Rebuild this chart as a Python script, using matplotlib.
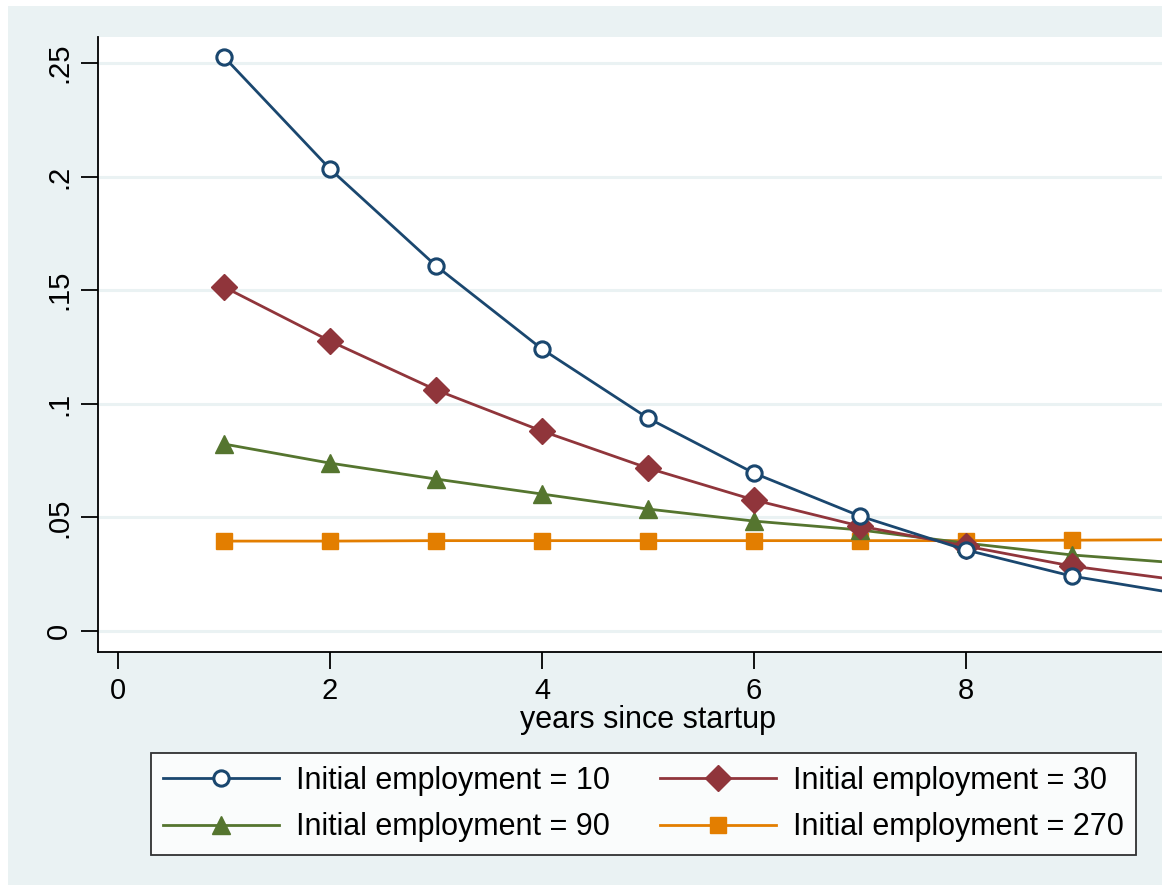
import matplotlib.pyplot as plt
from matplotlib.patches import Rectangle
from matplotlib.lines import Line2D

plt.rcParams['font.family'] = ['Liberation Sans', 'DejaVu Sans']

years = [1, 2, 3, 4, 5, 6, 7, 8, 9, 10]
emp10 = [0.2526, 0.2033, 0.1607, 0.1241, 0.0937, 0.0695, 0.0506, 0.0357, 0.0242, 0.0165]
emp30 = [0.1514, 0.1276, 0.1061, 0.0880, 0.0717, 0.0577, 0.0462, 0.0374, 0.0286, 0.0225]
emp90 = [0.0823, 0.0739, 0.0669, 0.0603, 0.0537, 0.0484, 0.0445, 0.0387, 0.0335, 0.0300]
emp270 = [0.0396, 0.0396, 0.0398, 0.0398, 0.0398, 0.0398, 0.0398, 0.0398, 0.0400, 0.0402]
labels = ['Initial employment = 10', 'Initial employment = 30',
          'Initial employment = 90', 'Initial employment = 270']
xticks = [0, 2, 4, 6, 8]
yticks = [0, 0.05, 0.1, 0.15, 0.2, 0.25]
ytick_labels = ['0', '.05', '.1', '.15', '.2', '.25']

bg = '#EAF2F3'
W, H = 1162, 891

fig = plt.figure(figsize=(W / 100, H / 100), dpi=100)
fig.patch.set_facecolor('white')
fig.patches.append(Rectangle((8 / W, 1 - 885 / H), 1 - 8 / W, (885 - 6) / H,
                             transform=fig.transFigure, facecolor=bg,
                             edgecolor='none', zorder=-10))

ax = fig.add_axes([98 / W, 1 - 652 / H, 1 - 98 / W + 0.01, (652 - 37) / H])
ax.set_facecolor('white')

styles = [
    dict(color='#1A476F', marker='o', ms=11, mfc='white', mec='#1A476F', mew=2.2),
    dict(color='#90353B', marker='D', ms=13, mfc='#90353B', mec='#90353B'),
    dict(color='#55752F', marker='^', ms=13, mfc='#55752F', mec='#55752F'),
    dict(color='#E37E00', marker='s', ms=11, mfc='#E37E00', mec='#E37E00'),
]
series = [emp10, emp30, emp90, emp270]
for i, (vals, st) in enumerate(zip(series, styles)):
    ax.plot(years, vals, lw=2.0, zorder=5 - i, **st)

ax.set_xlim(-0.19, 9.85 + 0.01 * W / 106)
ax.set_ylim(-0.0092, 0.2614)
ax.set_xticks(xticks)
ax.set_yticks(yticks)
ax.set_yticklabels(ytick_labels, rotation=90, va='center')
ax.tick_params(axis='both', direction='out', length=12, width=1.3,
               labelsize=21, pad=6, colors='black')
ax.yaxis.grid(True, color=bg, lw=2.2)
ax.set_axisbelow(True)
for side in ['top', 'right']:
    ax.spines[side].set_visible(False)
for side in ['left', 'bottom']:
    ax.spines[side].set_linewidth(1.3)

fig.text(648 / W, 1 - 720 / H, 'years since startup', ha='center', va='center',
         fontsize=22)

# legend fills column-wise, so reorder to get 10/30 on the first row
order = [0, 2, 1, 3]
handles = [Line2D([], [], lw=2.0, **styles[i]) for i in order]
leg = fig.legend(handles, [labels[i] for i in order], ncol=2, loc='center',
                 bbox_to_anchor=((143 + 1144) / 2 / W, 1 - 804 / H),
                 fontsize=22, frameon=True, fancybox=False, handlelength=3.8,
                 handletextpad=0.55, columnspacing=1.65, labelspacing=0.55,
                 borderpad=0.4, borderaxespad=0)
leg.get_frame().set_edgecolor('black')
leg.get_frame().set_linewidth(1.3)

fig.savefig('out.png', dpi=100, facecolor=fig.get_facecolor())
